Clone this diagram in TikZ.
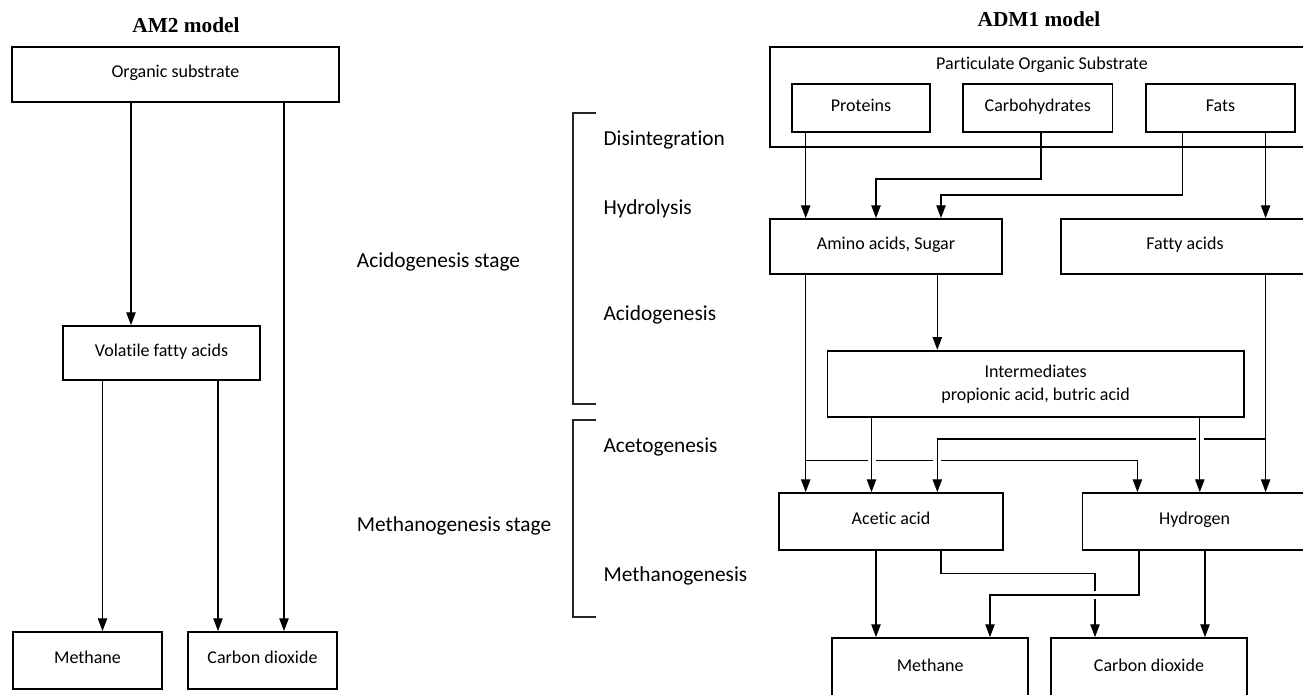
\documentclass[tikz,border=0pt]{standalone}
\usepackage{fontspec}
\setmainfont{Carlito}[Ligatures=NoCommon]
\newfontfamily\titlefont{Liberation Serif}
\usetikzlibrary{arrows.meta}
\pgfdeclarelayer{bg}
\pgfsetlayers{bg,main}
\begin{document}
\begin{tikzpicture}[x=0.75pt,y=-0.75pt,
  bx/.style 2 args={draw, line width=1.4pt, minimum width=#1*0.75pt, minimum height=#2*0.75pt,
    inner sep=0pt, font=\fontsize{13.5}{17.25}\selectfont},
  bxs/.style 2 args={bx={#1}{#2}, text height=0.75em, text depth=0.25em},
  lbl/.style={anchor=base west, inner sep=0pt, font=\fontsize{16}{19}\selectfont},
  ttl/.style={inner sep=0pt, font=\titlefont\bfseries\fontsize{16}{19}\selectfont},
  arr/.style={line width=0.8pt, -{Triangle[length=9.5pt,width=7pt]}},
  gap/.style={preaction={-, draw=white, line width=6pt}},
  brk/.style={line width=0.8pt, draw=black!85}]
\useasboundingbox (0,0) rectangle (1303,694);
\begin{scope}
\clip (0,0) rectangle (1303,694);
% titles
\node[ttl] (t1) at (186,25) {AM2 model};
\node[ttl] (t2) at (1039,19) {ADM1 model};
% AM2 model
\node[bxs={327}{55}] (os) at (175.5,74.5) {Organic substrate};
\node[bxs={197}{54}] (vfa) at (161.5,353) {Volatile fatty acids};
\node[bxs={149}{57}] (m1) at (87.5,660.5) {Methane};
\node[bxs={149}{57}] (c1) at (262.5,660.5) {Carbon dioxide};
% stage labels
\node[lbl] (sa) at (356.7,267) {Acidogenesis stage};
\node[lbl] (sm) at (356.7,531) {Methanogenesis stage};
\node[lbl] (p1) at (603.3,145) {Disintegration};
\node[lbl] (p2) at (603.3,214) {Hydrolysis};
\node[lbl] (p3) at (603.3,320) {Acidogenesis};
\node[lbl] (p4) at (603.3,452) {Acetogenesis};
\node[lbl] (p5) at (603.3,581) {Methanogenesis};
\draw[brk] (596,113) -- (573,113) -- (573,404) -- (596,404);
\draw[brk] (596,420) -- (573,420) -- (573,617) -- (596,617);
% ADM1 model
\node[bx={550}{100}] (pos) at (1045,97.3) {};
\node[inner sep=0pt, font=\fontsize{13.5}{17.25}\selectfont] (posl) at (1042,65) {Particulate Organic Substrate};
\node[bxs={138}{47.7}] (prot) at (861,107.85) {Proteins};
\node[bxs={149.5}{47.7}] (carb) at (1037.75,107.85) {Carbohydrates};
\node[bxs={149}{47.7}] (fats) at (1220.5,107.85) {Fats};
\node[bxs={232.7}{55.3}] (amino) at (886,246.65) {Amino acids, Sugar};
\node[bxs={248.8}{55.3}] (fatty) at (1185,246.65) {Fatty acids};
\node[bx={416.2}{66}, align=center] (inter) at (1035.6,383.7) {Intermediates\\propionic acid, butric acid};
\node[bxs={224}{57}] (acetic) at (891,521.5) {Acetic acid};
\node[bxs={224.2}{57}] (hyd) at (1194.6,521.5) {Hydrogen};
\node[bxs={196.4}{60}] (meth2) at (930.2,668) {Methane};
\node[bxs={196.7}{60}] (co22) at (1149,668) {Carbon dioxide};
\coordinate (j1) at (1265.6,439);
\coordinate (j2) at (805.7,460.7);
\begin{pgfonlayer}{bg}
% AM2 connectors
\draw[arr] (os.south -| 131,0) -- (vfa.north -| 131,0);
\draw[arr] (os.south -| 284,0) -- (c1.north -| 284,0);
\draw[arr] (vfa.south -| 102.5,0) -- (m1.north -| 102.5,0);
\draw[arr] (vfa.south -| 218,0) -- (c1.north -| 218,0);
% ADM1 top
\draw[arr] (prot.south -| 805.7,0) -- (amino.north -| 805.7,0);
\draw[arr] (carb.south -| 1041,0) -- (1041,179) -- (876,179) -- (amino.north -| 876,0);
\draw[arr] (fats.south -| 1182.5,0) -- (1182.5,195) -- (941,195) -- (amino.north -| 941,0);
\draw[arr] (fats.south -| 1265.6,0) -- (fatty.north -| 1265.6,0);
\draw[arr] (amino.south -| 937.3,0) -- (inter.north -| 937.3,0);
% ADM1 middle
\draw[arr] (j2) -- (1137.4,460.7) -- (hyd.north -| 1137.4,0);
\draw[arr,gap] (j1) -- (937.3,439) -- (acetic.north -| 937.3,0);
\draw[arr,gap] (inter.south -| 1199.8,0) -- (hyd.north -| 1199.8,0);
\draw[arr,gap] (inter.south -| 871.5,0) -- (acetic.north -| 871.5,0);
\draw[arr] (amino.south -| 805.7,0) -- (acetic.north -| 805.7,0);
\draw[arr] (fatty.south -| 1265.6,0) -- (hyd.north -| 1265.6,0);
% ADM1 bottom
\draw[arr] (acetic.south -| 941,0) -- (941,573.3) -- (1095,573.3) -- (co22.north -| 1095,0);
\draw[arr,gap] (hyd.south -| 1139,0) -- (1139,595) -- (990,595) -- (meth2.north -| 990,0);
\draw[arr] (acetic.south -| 876,0) -- (meth2.north -| 876,0);
\draw[arr] (hyd.south -| 1205,0) -- (co22.north -| 1205,0);
\end{pgfonlayer}
\end{scope}
\end{tikzpicture}
\end{document}
